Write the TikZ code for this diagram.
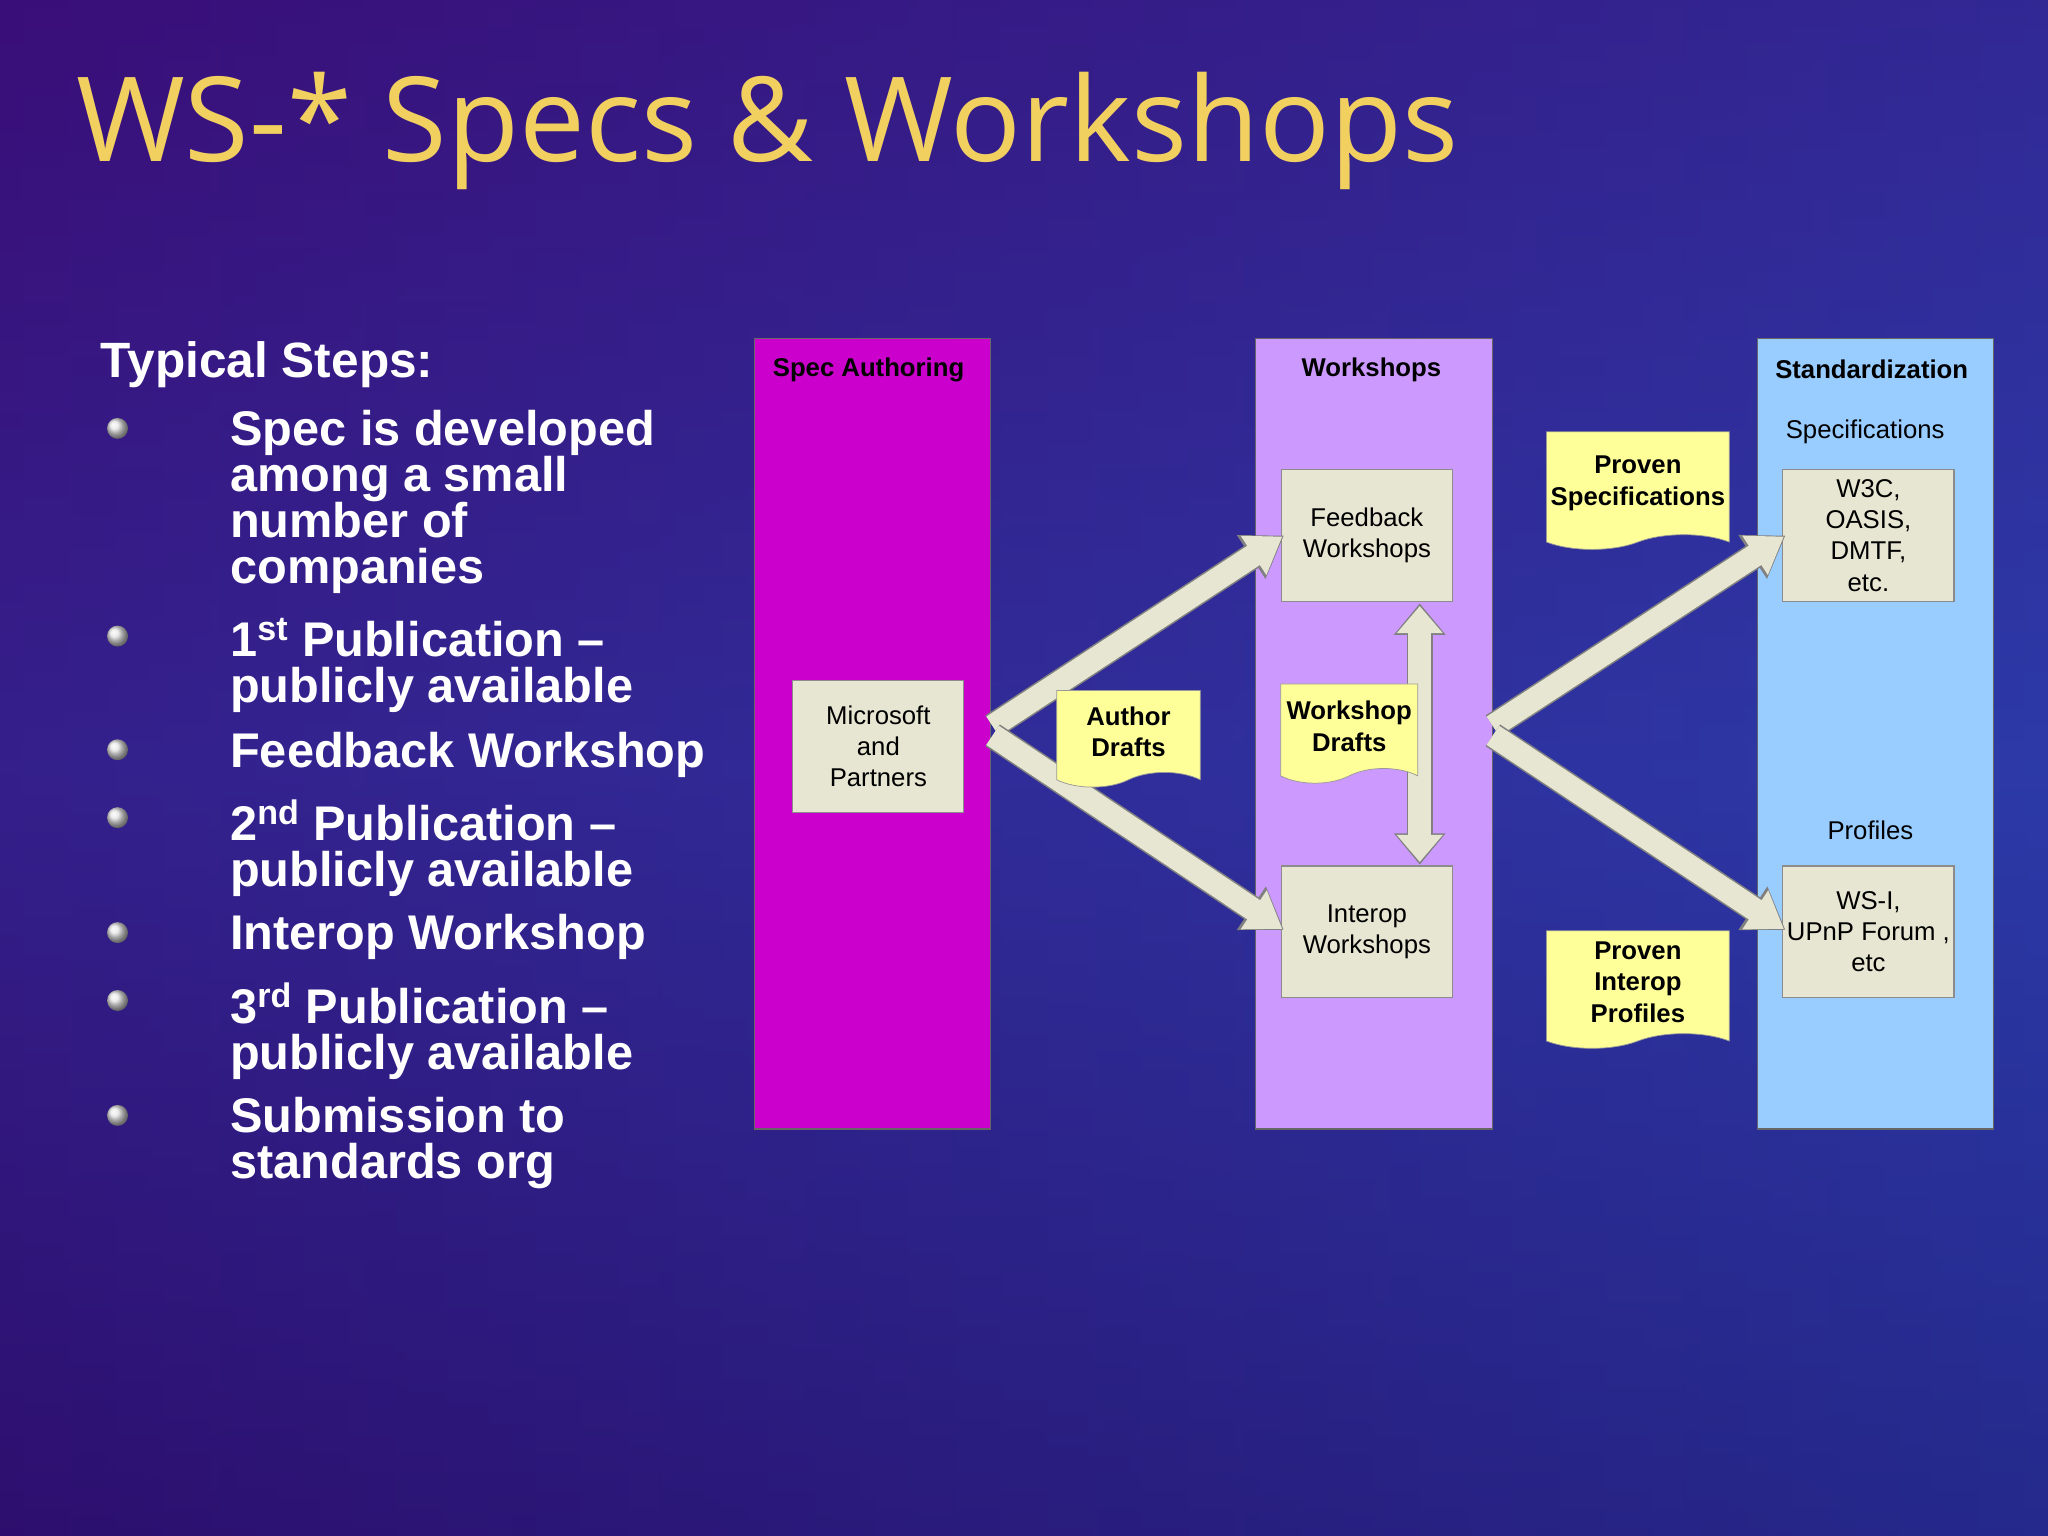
\documentclass[tikz,border=0pt]{standalone}
\usepackage{fontspec}
\setmainfont{Liberation Sans}
\newfontfamily\titlefont{Open Sans}
\usetikzlibrary{arrows.meta,shapes.symbols,calc}
\definecolor{bgA}{HTML}{3A0E78}
\definecolor{bgB}{HTML}{2C3AA8}
\definecolor{bgC}{HTML}{1A1060}
\definecolor{gold}{HTML}{F2D060}
\definecolor{magc}{HTML}{CC00CC}
\definecolor{lavc}{HTML}{CC99FF}
\definecolor{bluc}{HTML}{99CCFF}
\definecolor{beige}{HTML}{E6E6D2}
\definecolor{yel}{HTML}{FFFF99}
\begin{document}
\begin{tikzpicture}[x=0.025cm,y=-0.025cm,
  col/.style={draw=black!60,line width=0.6pt,anchor=north west,inner sep=0pt},
  colhead/.style={font=\fontsize{14}{16}\selectfont\bfseries,anchor=center},
  box/.style={draw=black!45,fill=beige,line width=0.6pt,minimum width=131*0.025cm,minimum height=101*0.025cm,inner sep=0pt,align=center,font=\fontsize{14}{17}\selectfont},
  doc/.style={draw=black!40,fill=yel,tape,tape bend top=none,tape bend height=8pt,inner sep=2pt,align=center,font=\fontsize{14}{17}\selectfont\bfseries},
  item/.style={anchor=north west,text=white,align=left,font=\fontsize{26.5}{25}\selectfont\bfseries,inner sep=0pt},
  bul/.style={circle,inner sep=0pt,minimum size=0.4cm,ball color=white!80!gray},
  arr/.style={line width=0.5cm,draw=black!50,-{Triangle[length=0.75cm,width=0.95cm]}},
  arrin/.style={line width=0.44cm,draw=beige,-{Triangle[length=0.66cm,width=0.85cm]}},
  darr/.style={line width=0.5cm,draw=black!50,{Triangle[length=0.6cm,width=0.95cm]}-{Triangle[length=0.6cm,width=0.95cm]}},
  darrin/.style={line width=0.44cm,draw=beige,{Triangle[length=0.52cm,width=0.85cm]}-{Triangle[length=0.52cm,width=0.85cm]}}]
\useasboundingbox (0,0) rectangle (1568,1176);
\shade[top color=bgA,bottom color=bgC,middle color=bgB] (0,0) rectangle (1568,1176);
\shade[left color=bgA,right color=bgB,opacity=0.6] (0,0) rectangle (1568,1176);
% title
\node[anchor=west,text=gold,font=\titlefont\fontsize{64}{70}\selectfont,inner sep=0pt] (title) at (58,100) {WS-* Specs \& Workshops};
% left list
\node[anchor=west,text=white,font=\fontsize{27}{28}\selectfont\bfseries,inner sep=0pt] (typ) at (77,279) {Typical Steps:};
\foreach \y/\t [count=\i] in {314/{Spec is developed\\among a small\\number of\\companies},473/{1\textsuperscript{st} Publication --\\publicly available},560/{Feedback Workshop},612/{2\textsuperscript{nd} Publication --\\publicly available},700/{Interop Workshop},752/{3\textsuperscript{rd} Publication --\\publicly available},840/{Submission to\\standards org}}{
  \node[item] (it\i) at (176,\y) {\t};
  \node[bul] (b\i) at (90,\y+14) {};
}
% columns
\node[col,fill=magc,minimum width=181*0.025cm,minimum height=605*0.025cm] (c1) at (577,259) {};
\node[col,fill=lavc,minimum width=181*0.025cm,minimum height=605*0.025cm] (c2) at (961,259) {};
\node[col,fill=bluc,minimum width=181*0.025cm,minimum height=605*0.025cm] (c3) at (1345,259) {};
\node[colhead] (h1) at (665,283) {Spec Authoring};
\node[colhead] (h2) at (1050,283) {Workshops};
\node[colhead] (h3) at (1433,283) {Standardization};
\node[font=\fontsize{14}{16}\selectfont] (spec) at (1428,331) {Specifications};
\node[font=\fontsize{14}{16}\selectfont] (prof) at (1432,636) {Profiles};
% boxes
\node[box] (ms) at (672.5,571.5) {Microsoft\\and\\Partners};
\node[box] (fb) at (1046.5,410) {Feedback\\Workshops};
\node[box] (io) at (1046.5,713.5) {Interop\\Workshops};
\node[box] (w3) at (1430.5,410) {W3C,\\OASIS,\\DMTF,\\etc.};
\node[box] (wsi) at (1430.5,713.5) {WS-I,\\UPnP Forum ,\\etc};
% arrows
\coordinate (a1s) at (760,556);
\coordinate (a1e) at (983,410);
\coordinate (a2s) at (760,563);
\coordinate (a2e) at (983,712);
\coordinate (a3s) at (1143,556);
\coordinate (a3e) at (1367,410);
\coordinate (a4s) at (1143,563);
\coordinate (a4e) at (1367,712);
\coordinate (vs) at (1087,462);
\coordinate (ve) at (1087,662);
\foreach \s/\e in {a1s/a1e,a2s/a2e,a3s/a3e,a4s/a4e}{
  \draw[arr] (\s) -- (\e);
  \draw[arrin] (\s) -- ($(\e)!0.035cm!(\s)$);
}
\draw[darr] (vs) -- (ve);
\draw[darrin] ($(vs)+(0,2)$) -- ($(ve)+(0,-2)$);
% docs
\node[doc,minimum width=110*0.025cm,minimum height=74*0.025cm] (ad) at (864,560) {Author\\Drafts};
\node[doc,minimum width=105*0.025cm,minimum height=76*0.025cm] (wd) at (1033,556) {Workshop\\Drafts};
\node[doc,minimum width=140*0.025cm,minimum height=90*0.025cm] (ps) at (1254,370) {Proven\\Specifications};
\node[doc,minimum width=140*0.025cm,minimum height=90*0.025cm] (pp) at (1254,752) {Proven\\Interop\\Profiles};
\end{tikzpicture}
\end{document}
